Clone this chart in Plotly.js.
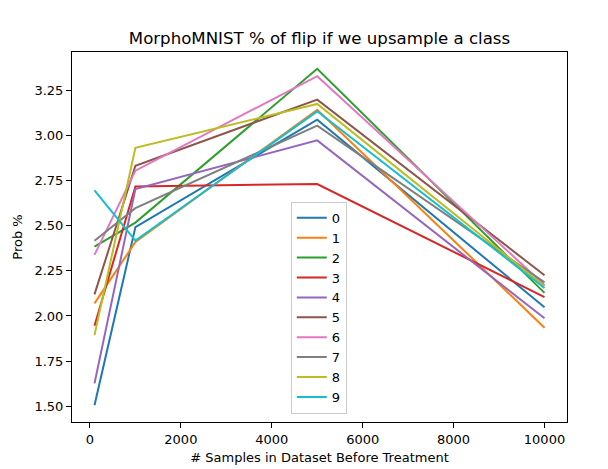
<!DOCTYPE html>
<html>
<head>
<meta charset="utf-8">
<script src="https://cdn.plot.ly/plotly-3.0.1.min.js"></script>
<style>html,body{margin:0;padding:0;background:#fff;}#chart{width:608px;height:469px;}</style>
</head>
<body>
<div id="chart"></div>
<script>
const xValues = [100, 1000, 5000, 10000];
const seriesNames = ["0", "1", "2", "3", "4", "5", "6", "7", "8", "9"];
const s0 = [1.505, 2.493, 3.089, 2.048];
const s1 = [2.070, 2.410, 3.144, 1.935];
const s2 = [2.385, 2.518, 3.371, 2.128];
const s3 = [1.946, 2.718, 2.732, 2.105];
const s4 = [1.626, 2.704, 2.974, 1.987];
const s5 = [2.120, 2.833, 3.200, 2.226];
const s6 = [2.339, 2.806, 3.330, 2.172];
const s7 = [2.417, 2.598, 3.056, 2.186];
const s8 = [1.894, 2.933, 3.176, 2.165];
const s9 = [2.696, 2.418, 3.135, 2.155];
const seriesValues = [s0, s1, s2, s3, s4, s5, s6, s7, s8, s9];
const colors = ["#1f77b4", "#ff7f0e", "#2ca02c", "#d62728", "#9467bd", "#8c564b", "#e377c2", "#7f7f7f", "#bcbd22", "#17becf"];
const yTicks = [1.5, 1.75, 2.0, 2.25, 2.5, 2.75, 3.0, 3.25];
const xTicks = [0, 2000, 4000, 6000, 8000, 10000];

const traces = seriesValues.map((vals, i) => ({
  x: xValues, y: vals, type: 'scatter', mode: 'lines', name: seriesNames[i],
  line: {color: colors[i], width: 2}
}));

const font = {family: 'DejaVu Sans', size: 13, color: '#000'};
const layout = {
  width: 608, height: 469,
  margin: {l: 72, r: 41, t: 52, b: 47},
  paper_bgcolor: '#fff', plot_bgcolor: '#fff',
  font: font,
  showlegend: true,
  title: {text: 'MorphoMNIST % of flip if we upsample a class', font: {family: 'DejaVu Sans', size: 16.6, color: '#000'},
          x: 0.5, xref: 'paper', y: 1 - 38/469, yref: 'container', yanchor: 'middle'},
  xaxis: {range: [-395, 10495], tickvals: xTicks, ticktext: xTicks.map(String),
          showgrid: false, zeroline: false, showline: true, linecolor: '#000', linewidth: 1, mirror: true,
          ticks: 'outside', ticklen: 5, tickcolor: '#000', tickfont: font,
          title: {text: '# Samples in Dataset Before Treatment', font: font, standoff: 7}},
  yaxis: {range: [1.412, 3.464], tickvals: yTicks, ticktext: yTicks.map(v => v.toFixed(2)),
          showgrid: false, zeroline: false, showline: true, linecolor: '#000', linewidth: 1, mirror: true,
          ticks: 'outside', ticklen: 5, tickcolor: '#000', tickfont: font,
          title: {text: 'Prob %', font: font, standoff: 8}},
  legend: {x: 0.442, y: 0.595, xanchor: 'left', yanchor: 'top', bgcolor: 'rgba(255,255,255,0.8)',
           bordercolor: '#cccccc', borderwidth: 1, font: font, tracegroupgap: 0}
};
Plotly.newPlot('chart', traces, layout, {displayModeBar: false, staticPlot: true});
</script>
</body>
</html>
